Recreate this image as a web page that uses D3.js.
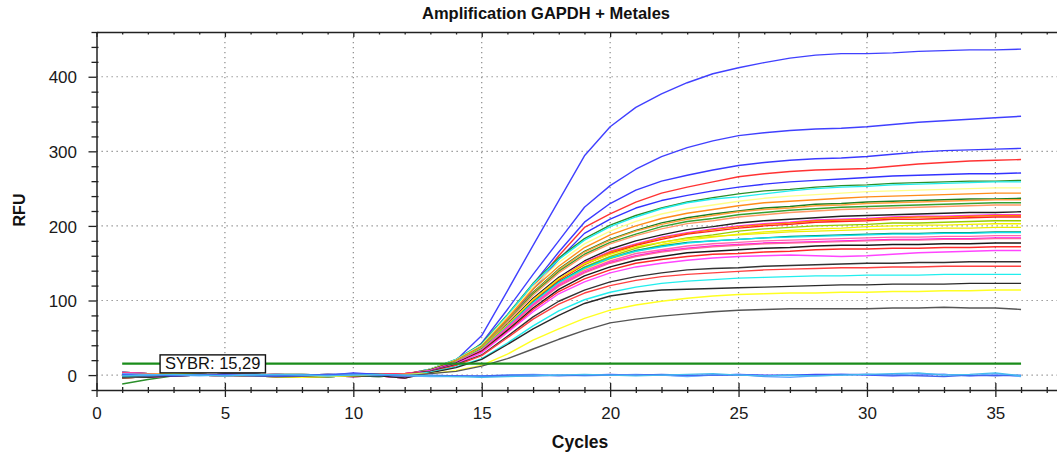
<!DOCTYPE html>
<html>
<head>
<meta charset="utf-8">
<script src="https://cdn.jsdelivr.net/npm/d3@7"></script>
<style>
html,body{margin:0;padding:0;background:#fff;overflow:hidden;}
svg{display:block;font-family:"Liberation Sans",Arial,sans-serif;}
</style>
</head>
<body>
<svg id="chart" width="1057" height="453"></svg>
<script>
// ---------- DATA ----------
const cycles = [1,2,3,4,5,6,7,8,9,10,11,12,13,14,15,16,17,18,19,20,21,22,23,24,25,26,27,28,29,30,31,32,33,34,35,36];
const xMajorTicks = [0,5,10,15,20,25,30,35];
const yMajorTicks = [0,100,200,300,400];
const thresholdValue = 15.29;
const thresholdLabel = "SYBR: 15,29";
const titleText = "Amplification GAPDH + Metales";
const xLabel = "Cycles";
const yLabel = "RFU";

const s01 = [1,0,-1,0,1,1,0,-1,-2,-1,0,1, 8,20,53,113,174,234,294,333,359,377,392,404,412,419,425,429,431,431,432,434,435,436,436,437];
const s02 = [3,2,1,0,-1,0,1,0,-1,0,1,2, 6,15,43,88,135,180,225,254,276,293,305,314,321,325,328,330,331,333,336,339,341,343,345,347];
const s03 = [-2,-1,0,0,-1,0,1,1,0,-1,-2,0, 5,14,38,78,122,165,205,230,248,260,268,275,281,285,288,290,291,293,296,299,301,302,303,304];
const s04 = [-3,-3,-1,0,1,1,0,-1,-1,-2,-1,-4, 5,13,36,75,118,160,198,216,232,244,252,259,266,270,273,275,276,277,280,283,285,287,288,289];
const s05 = [-4,-2,0,1,0,-1,-2,-1,0,1,0,-1, 5,13,35,72,115,155,190,209,224,234,241,247,252,256,259,261,263,265,267,268,269,270,270,271];
const s06 = [-12,-6,-1,0,1,0,-1,0,0,1,2,1, 8,21,42,81,123,157,183,201,214,224,232,238,243,247,249,252,254,255,257,258,259,260,260,261];
const s07 = [0,1,2,1,0,-1,-2,-3,-2,-1,0,1, 8,21,41,80,122,155,181,199,212,223,231,236,239,243,247,250,252,253,255,256,257,258,259,259];
const s08 = [4,2,1,0,0,-1,-1,0,1,0,-1,-3, 8,20,40,78,118,151,176,193,206,216,223,228,233,237,240,242,244,246,247,248,249,250,251,251];
const s09 = [3,2,1,0,-1,0,1,0,-1,0,1,2, 7,20,39,76,115,146,171,188,200,210,217,222,227,231,233,235,237,239,240,241,242,243,244,244];
const s10 = [1,0,-1,0,1,1,0,-1,-2,-1,0,1, 7,19,38,73,111,142,166,182,194,204,211,216,220,224,226,229,230,232,233,234,235,236,236,237];
const s11 = [-2,-1,0,0,-1,0,1,1,0,-1,-2,0, 7,19,38,73,110,141,165,181,193,202,209,214,219,222,224,227,228,230,231,232,233,234,235,235];
const s12 = [0,1,2,1,0,-1,-2,-3,-2,-1,0,1, 7,18,37,72,109,139,162,178,189,199,206,210,215,218,221,223,225,226,227,228,229,230,231,231];
const s13 = [-4,-2,0,1,0,-1,-2,-1,0,1,0,-1, 7,18,36,71,107,137,160,176,187,196,203,207,212,215,218,220,222,223,224,225,226,227,228,228];
const s14 = [4,2,1,0,0,-1,-1,0,1,0,-1,-3, 7,18,35,68,103,131,153,169,180,188,195,199,204,207,209,211,213,214,215,216,217,218,218,219];
const s15 = [-3,-3,-1,0,1,1,0,-1,-1,-2,-1,-4, 6,17,34,67,101,129,151,166,176,185,191,196,200,203,205,208,209,210,212,213,213,214,215,215];
const s16 = [1,0,-1,0,1,1,0,-1,-2,-1,0,1, 6,17,34,66,101,128,150,165,175,184,190,195,199,202,204,207,208,209,211,212,212,213,214,214];
const s17 = [3,2,1,0,-1,0,1,0,-1,0,1,2, 6,17,34,66,100,127,148,163,174,182,189,193,197,200,202,205,206,207,209,209,210,211,212,212];
const s18 = [-2,-1,0,0,-1,0,1,1,0,-1,-2,0, 6,17,33,64,97,124,145,159,170,178,184,188,193,196,198,200,201,202,204,204,205,206,207,207];
const s19 = [0,1,2,1,0,-1,-2,-3,-2,-1,0,1, 6,16,32,63,95,122,142,156,166,175,181,185,189,192,194,196,197,199,200,201,201,202,203,203];
const s20 = [-4,-2,0,1,0,-1,-2,-1,0,1,0,-1, 6,18,36,67,101,129,149,162,172,178,183,186,188,190,192,193,194,195,196,196,197,197,198,198];
const s21 = [4,2,1,0,0,-1,-1,0,1,0,-1,-3, 6,17,35,65,98,125,144,157,167,173,178,180,182,184,186,187,188,189,190,190,191,191,192,192];
const s22 = [1,0,-1,0,1,1,0,-1,-2,-1,0,1, 6,17,34,65,97,124,143,157,166,172,177,180,182,184,185,186,187,188,189,189,190,190,191,191];
const s23 = [-3,-3,-1,0,1,1,0,-1,-1,-2,-1,-4, 6,17,34,64,95,122,140,153,163,168,173,176,178,180,181,182,183,184,185,185,186,186,187,187];
const s24 = [3,2,1,0,-1,0,1,0,-1,0,1,2, 6,17,33,63,94,120,138,151,160,166,170,173,175,177,178,179,180,181,182,182,183,183,184,184];
const s25 = [-2,-1,0,0,-1,0,1,1,0,-1,-2,0, 5,16,33,62,93,119,137,150,159,165,169,172,174,176,177,178,179,180,181,181,182,182,183,183];
const s26 = [0,1,2,1,0,-1,-2,-3,-2,-1,0,1, 5,16,32,60,90,115,133,145,154,159,164,166,168,170,171,173,174,174,175,175,176,176,177,177];
const s27 = [-4,-2,0,1,0,-1,-2,-1,0,1,0,-1, 5,15,31,58,88,112,129,141,150,155,159,162,163,165,166,168,169,169,170,170,171,171,172,172];
const s28 = [4,2,1,0,0,-1,-1,0,1,0,-1,-3, 5,15,30,57,85,109,125,137,145,150,154,157,159,160,161,160,159,160,162,164,165,166,167,167];
const s29 = [1,0,-1,0,1,1,0,-1,-2,-1,0,1, 5,14,27,52,78,99,114,125,132,137,141,143,144,146,147,148,149,150,150,151,151,152,152,152];
const s30 = [3,2,1,0,-1,0,1,0,-1,0,1,2, 4,13,26,50,75,95,110,120,127,132,135,137,139,141,142,143,144,144,145,145,146,146,146,146];
const s31 = [-2,-1,0,0,-1,0,1,1,0,-1,-2,0, 4,11,22,43,66,86,101,111,118,123,126,128,130,131,132,133,133,134,134,134,135,135,135,135];
const s32 = [-3,-3,-1,0,1,1,0,-1,-1,-2,-1,-4, 3,10,21,41,62,80,96,106,111,114,115,116,117,118,119,120,121,121,122,122,122,123,123,123];
const s33 = [0,1,2,1,0,-1,-2,-3,-2,-1,0,1, 2,6,13,28,47,62,76,87,94,99,103,106,108,109,110,110,111,111,112,112,113,113,114,114];
const s34 = [-4,-2,0,1,0,-1,-2,-1,0,1,0,-1, 2,5,12,22,35,48,60,70,75,79,82,85,87,88,89,89,89,89,90,90,91,90,90,88];
// flat (no amplification) wells
const f01 = [1,0,-1,0,1,0,-1,-1,0,3,1,0,-1,-1,-2,-1,-1,0,0,1,0,0,-1,0,1,0,0,1,1,0,-1,0,1,-1,0,-1];
const f02 = [2,1,0,-1,0,1,0,0,-1,1,0,-1,-2,-2,-1,0,1,0,-1,0,1,0,-2,0,1,-2,-3,-1,0,1,0,2,1,-1,2,-2];
const f03 = [0,-1,0,1,0,-1,-1,0,1,2,0,-1,0,-1,-1,0,0,-1,0,0,0,1,0,0,0,-1,0,0,1,1,0,-1,-2,0,-1,0];
const f04 = [-1,0,1,0,-1,0,1,0,-1,0,1,0,-1,-2,-3,-2,-1,0,1,0,-1,0,1,2,0,-1,0,-1,0,1,2,3,0,1,3,-1];

const seriesList = [s01,s02,s03,s04,s05,s06,s07,s08,s09,s10,s11,s12,s13,s14,s15,s16,s17,s18,s19,s20,s21,s22,s23,s24,s25,s26,s27,s28,s29,s30,s31,s32,s33,s34,f01,f02,f03,f04];
const seriesColors = ["#4040ff","#4040ff","#3a3aff","#ff3333","#3333ff","#2a8f2a","#22eeee","#ffff88","#ff8c1a","#1f7f1f","#ffa040","#33a033","#ff9966","#222222","#ff22ff","#ff8000","#ff2020","#99cc00","#f2f200","#eeee00","#00996b","#11e0f0","#ff66aa","#ff11ee","#ff6699","#1a1a1a","#ff2a2a","#ff44ff","#333333","#ff4040","#22eeee","#2a2a2a","#ffff22","#555555","#3a3aff","#66aaff","#4466ee","#44bbee"];

// ---------- CHART ----------
(function () {
const svg = d3.select("#chart");
const W = 1057;
const plotLeft = 96.5, plotTop = 32, plotBottom = 390;
const x = d3.scaleLinear().domain([0, 37.4]).range([plotLeft, W]);
const y = d3.scaleLinear().domain([-20, 460]).range([plotBottom, plotTop]);

// grid
const grid = svg.append("g").attr("stroke", "#8a8a8a").attr("stroke-width", 1.2).attr("stroke-dasharray", "1.3,3.7");
grid.selectAll("line.v").data(xMajorTicks.filter(d => d > 0)).enter().append("line").attr("class", "v")
  .attr("x1", d => x(d)).attr("x2", d => x(d)).attr("y1", plotTop).attr("y2", plotBottom);
grid.selectAll("line.h").data(yMajorTicks).enter().append("line").attr("class", "h")
  .attr("x1", plotLeft).attr("x2", W).attr("y1", d => y(d)).attr("y2", d => y(d));

// lines
const line = d3.line().x((d, i) => x(cycles[i])).y(d => y(d));
const lines = svg.append("g").attr("fill", "none").attr("stroke-width", 1.4).attr("stroke-linejoin", "round");
lines.selectAll("path").data(seriesList).enter().append("path")
  .attr("d", d => line(d)).attr("stroke", (d, i) => seriesColors[i]);

// threshold
svg.append("line").attr("x1", x(cycles[0])).attr("x2", x(cycles[cycles.length - 1]))
  .attr("y1", y(thresholdValue)).attr("y2", y(thresholdValue))
  .attr("stroke", "#1a8c1a").attr("stroke-width", 2.2);
const lblG = svg.append("g");
const lblText = lblG.append("text").attr("x", x(2.67)).attr("y", y(thresholdValue) + 5.8)
  .attr("font-size", 16.5).attr("fill", "#111").text(thresholdLabel);
const bb = lblText.node().getBBox();
lblG.insert("rect", "text").attr("x", bb.x - 5).attr("y", y(thresholdValue) - 8.8)
  .attr("width", bb.width + 10).attr("height", 18)
  .attr("fill", "#fff").attr("stroke", "#111").attr("stroke-width", 1.4);

// axes
const axisColor = "#222";
const xMinor = d3.range(0, 38, 1);
const yMinor = d3.range(-20, 461, 20);

const bx = svg.append("g").attr("transform", `translate(0,${plotBottom})`)
  .call(d3.axisBottom(x).tickValues(xMinor).tickSize(0).tickSizeOuter(0).tickFormat(d => xMajorTicks.includes(d) ? d : ""));
bx.select(".domain").attr("stroke", axisColor).attr("stroke-width", 1.5);
bx.selectAll(".tick line").attr("stroke", axisColor).attr("stroke-width", 1.3)
  .attr("y1", d => xMajorTicks.includes(d) ? -7 : -3).attr("y2", d => xMajorTicks.includes(d) ? 7 : 3);
bx.selectAll(".tick text").attr("y", 29).attr("dy", 0).attr("font-size", 17).attr("fill", "#1a1a1a")
  .attr("font-family", '"Liberation Sans",Arial,sans-serif');

const tx = svg.append("g").attr("transform", `translate(0,${plotTop})`)
  .call(d3.axisTop(x).tickValues(xMinor).tickSize(0).tickSizeOuter(0).tickFormat(""));
tx.select(".domain").attr("stroke", axisColor).attr("stroke-width", 1.5);
tx.selectAll(".tick line").attr("stroke", axisColor).attr("stroke-width", 1.3)
  .attr("y1", 0).attr("y2", d => xMajorTicks.includes(d) ? 5 : 2.5);

const ly = svg.append("g").attr("transform", `translate(${plotLeft},0)`)
  .call(d3.axisLeft(y).tickValues(yMinor).tickSize(0).tickSizeOuter(0).tickFormat(d => yMajorTicks.includes(d) ? d : ""));
ly.select(".domain").attr("stroke", axisColor).attr("stroke-width", 1.5);
ly.selectAll(".tick line").attr("stroke", axisColor).attr("stroke-width", 1.3)
  .attr("x1", d => yMajorTicks.includes(d) ? -8 : -5).attr("x2", d => yMajorTicks.includes(d) ? 0 : 2);
ly.selectAll(".tick text").attr("x", -19.5).attr("dy", "0.36em").attr("font-size", 17).attr("fill", "#1a1a1a")
  .attr("font-family", '"Liberation Sans",Arial,sans-serif');

// titles
svg.append("text").attr("x", 546).attr("y", 19).attr("text-anchor", "middle")
  .attr("font-size", 16.5).attr("font-weight", "bold").attr("fill", "#111").text(titleText);
svg.append("text").attr("x", 580).attr("y", 448).attr("text-anchor", "middle")
  .attr("font-size", 17.5).attr("font-weight", "bold").attr("fill", "#111").text(xLabel);
svg.append("text").attr("transform", "translate(25,210) rotate(-90)").attr("text-anchor", "middle")
  .attr("font-size", 16).attr("font-weight", "bold").attr("fill", "#111").text(yLabel);
})();
</script>
</body>
</html>
